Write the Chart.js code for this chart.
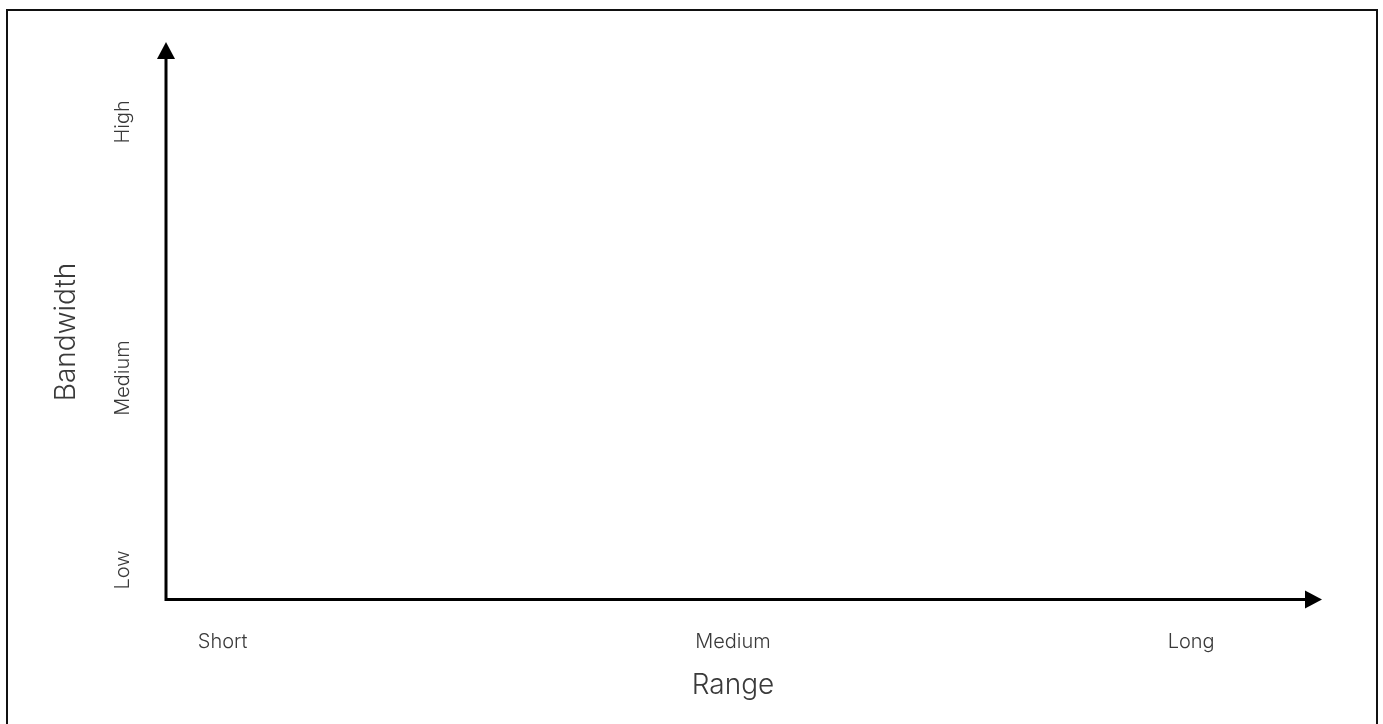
<!DOCTYPE html>
<html>
<head>
<meta charset="utf-8">
<script src="https://cdn.jsdelivr.net/npm/chart.js@4"></script>
<style>
  html, body { margin: 0; padding: 0; background: #fff; }
  #chart { display: block; }
</style>
</head>
<body>
<canvas id="chart" width="1383" height="724"></canvas>
<script>
// axis categories and where they sit along each 0-100 axis
const rangeLabels = ['Short', 'Medium', 'Long'];
const rangeTicks = [5, 50, 90.4];
const bandwidthLabels = ['Low', 'Medium', 'High'];
const bandwidthTicks = [5.6, 41.4, 89.2];
const points = [];

const fontFamily = "Inter, 'Noto Sans', sans-serif";
const textColor = '#3a3a3a';

// frame round the picture, the two axis lines and their arrow heads
const arrowPlugin = {
    id: 'arrows',
    beforeDraw(chart) {
        const ctx = chart.ctx;
        ctx.save();
        ctx.fillStyle = '#fff';
        ctx.fillRect(0, 0, chart.width, chart.height);
        ctx.strokeStyle = '#111';
        ctx.lineWidth = 2;
        ctx.strokeRect(7, 10, 1370, 760);
        ctx.restore();
    },
    afterDraw(chart) {
        const ctx = chart.ctx;
        const area = chart.chartArea;
        const x0 = area.left;
        const y0 = area.bottom - 0.5;
        ctx.save();
        ctx.strokeStyle = '#000';
        ctx.fillStyle = '#000';
        ctx.lineWidth = 3;
        ctx.lineCap = 'butt';
        ctx.beginPath();
        ctx.moveTo(x0, y0 + 1.5);
        ctx.lineTo(x0, 58);
        ctx.moveTo(x0 - 1.5, y0);
        ctx.lineTo(1306, y0);
        ctx.stroke();
        // up arrow
        ctx.beginPath();
        ctx.moveTo(x0, 42);
        ctx.lineTo(x0 + 9, 59);
        ctx.lineTo(x0 - 9, 59);
        ctx.closePath();
        ctx.fill();
        // right arrow
        ctx.beginPath();
        ctx.moveTo(1322, y0);
        ctx.lineTo(1305, y0 - 9);
        ctx.lineTo(1305, y0 + 9);
        ctx.closePath();
        ctx.fill();
        ctx.restore();
    }
};

new Chart(document.getElementById('chart'), {
    type: 'scatter',
    data: {
        datasets: [{
            data: points,
            pointRadius: 0
        }]
    },
    plugins: [arrowPlugin],
    options: {
        responsive: false,
        animation: false,
        devicePixelRatio: 1,
        layout: {
            padding: { left: 0, top: 64, right: 83, bottom: 0 }
        },
        scales: {
            x: {
                type: 'linear',
                min: 0,
                max: 100,
                afterFit: function(scale) { scale.height = 124; },
                afterBuildTicks: function(scale) {
                    scale.ticks = rangeTicks.map(v => ({ value: v }));
                },
                grid: { display: false, drawTicks: false },
                border: { display: false },
                ticks: {
                    color: textColor,
                    padding: 30,
                    maxRotation: 0,
                    font: { family: fontFamily, size: 20, weight: 300 },
                    callback: function(value) {
                        return rangeLabels[rangeTicks.indexOf(value)];
                    }
                },
                title: {
                    display: true,
                    text: 'Range',
                    color: textColor,
                    padding: { top: 0, bottom: 22 },
                    font: { family: fontFamily, size: 28, weight: 300 }
                }
            },
            y: {
                type: 'linear',
                min: 0,
                max: 100,
                afterFit: function(scale) { scale.width = 166; },
                afterBuildTicks: function(scale) {
                    scale.ticks = bandwidthTicks.map(v => ({ value: v }));
                },
                grid: { display: false, drawTicks: false },
                border: { display: false },
                ticks: {
                    color: textColor,
                    padding: 5,
                    minRotation: 90,
                    maxRotation: 90,
                    crossAlign: 'center',
                    font: { family: fontFamily, size: 20, weight: 300 },
                    callback: function(value) {
                        return bandwidthLabels[bandwidthTicks.indexOf(value)];
                    }
                },
                title: {
                    display: true,
                    text: 'Bandwidth',
                    color: textColor,
                    padding: { top: 50, bottom: 0 },
                    font: { family: fontFamily, size: 28, weight: 300 }
                }
            }
        },
        plugins: {
            legend: { display: false },
            tooltip: { enabled: false }
        }
    }
});
</script>
</body>
</html>
